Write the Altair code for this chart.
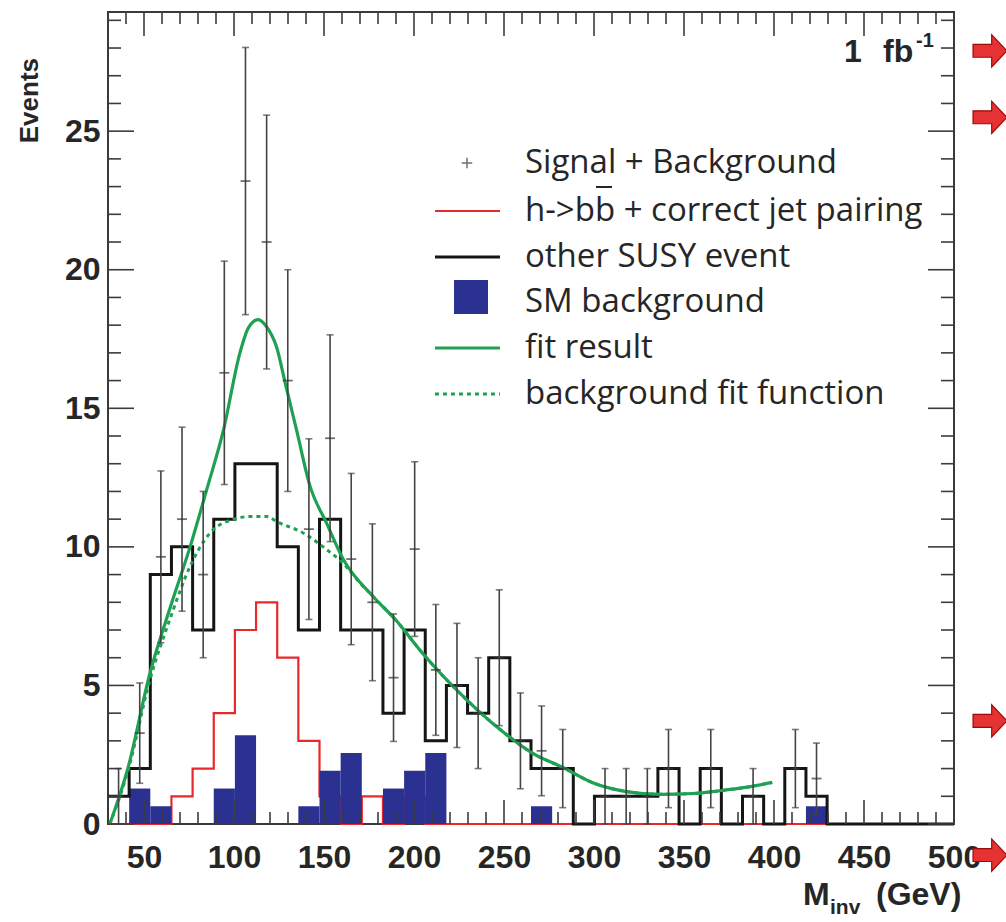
import altair as alt
import pandas as pd

# ---- binning: 40 bins between 30 and 500 GeV ----
X_MIN, X_MAX, N_BINS = 30.0, 500.0, 40
BIN_W = (X_MAX - X_MIN) / N_BINS
bin_lo = [X_MIN + i * BIN_W for i in range(N_BINS)]
bin_hi = [b + BIN_W for b in bin_lo]
bin_mid = [b + BIN_W / 2 for b in bin_lo]

# ---- histogram contents per bin ----
other_susy = [1, 2, 9, 10, 7, 11, 13, 13, 10, 7,
              11, 7, 7, 4, 7, 3, 5, 4, 6, 3,
              2, 2, 0, 1, 1, 1, 2, 0, 2, 0,
              1, 0, 2, 1, 0, 0, 0, 0, 0, 0]
h_bb = [0, 0, 0, 1, 2, 4, 7, 8, 6, 3,
        1, 0, 1, 0, 1, 0, 0, 0, 0, 0,
        0, 0, 0, 0, 0, 0, 0, 0, 0, 0,
        0, 0, 0, 0, 0, 0, 0, 0, 0, 0]
sm_bkg = [0, 1.28, 0.64, 0, 0, 1.28, 3.2, 0, 0, 0.64,
          1.92, 2.56, 0, 1.28, 1.92, 2.56, 0, 0, 0, 0,
          0.64, 0, 0, 0, 0, 0, 0, 0, 0, 0,
          0, 0, 0, 0.64, 0, 0, 0, 0, 0, 0]
sig_bkg = [1, 3.28, 9.64, 11, 9, 16.28, 23.2, 21, 16, 10.64,
           13.92, 9.56, 8, 5.28, 9.92, 5.56, 5, 4, 6, 3,
           2.64, 2, 0, 1, 1, 1, 2, 0, 2, 0,
           1, 0, 2, 1.64, 0, 0, 0, 0, 0, 0]
sig_err = [1, 1.81, 3.10, 3.32, 3.0, 4.03, 4.82, 4.58, 4.0, 3.26,
           3.73, 3.09, 2.83, 2.30, 3.15, 2.36, 2.24, 2.0, 2.45, 1.73,
           1.62, 1.41, 0, 1, 1, 1, 1.41, 0, 1.41, 0,
           1, 0, 1.41, 1.28, 0, 0, 0, 0, 0, 0]

# ---- fitted curves (sampled) ----
fit_x = [31, 41, 53.3, 65, 75.6, 85, 94.1, 103.3, 108, 113.5, 118, 123.7,
         128.5, 134.8, 142.2, 151.5, 160.7, 177.4, 190, 203, 211, 229, 248,
         266, 283, 300, 318, 337, 355, 370, 385, 399]
fit_y = [0, 2.0, 5.44, 7.9, 10.0, 12.1, 14.2, 17.0, 17.9, 18.2, 17.95, 17.2,
         15.9, 14.2, 12.2, 10.85, 9.55, 8.2, 7.35, 6.3, 5.7, 4.5, 3.4,
         2.55, 2.03, 1.47, 1.17, 1.07, 1.1, 1.2, 1.33, 1.5]
bkg_x = [31, 41, 53.3, 65, 75.6, 86.7, 100, 110, 118, 124, 138.5, 151.5,
         160.7, 170, 177.4, 190, 203, 211, 229, 248, 266, 283, 300, 318,
         337, 355, 370, 385, 399]
bkg_y = [0, 1.9, 5.2, 7.5, 9.3, 10.5, 11.0, 11.1, 11.1, 10.9, 10.5, 9.9,
         9.4, 8.7, 8.2, 7.35, 6.3, 5.7, 4.5, 3.4, 2.55, 2.03, 1.47, 1.17,
         1.07, 1.1, 1.2, 1.33, 1.5]

# ---- axis ticks ----
x_major = [50, 100, 150, 200, 250, 300, 350, 400, 450, 500]
x_minor = [v for v in range(40, 500, 10) if v % 50 != 0]
y_major = [0, 5, 10, 15, 20, 25]
y_minor = [v for v in range(1, 30) if v % 5 != 0]

# ---- legend ----
legend_labels = ["Signal + Background", "h->bb + correct jet pairing",
                 "other SUSY event", "SM background", "fit result",
                 "background fit function"]

# slide markers at the right margin
arrow_x = [520, 520, 520, 520]
arrow_y = [27.9, 25.5, 3.72, -1.12]

W, H = 846, 812
GREEN = "#1ea152"
RED = "#e8282b"
BLUE = "#2b3190"
INK = "#262626"
TICK = "#3c3c3c"
BOLD_FONT = "Liberation Sans"
LEG_FONT = "Open Sans"

xs = alt.Scale(domain=[X_MIN, X_MAX], nice=False, zero=False)
ys = alt.Scale(domain=[0, 29.3], nice=False, zero=False)
xaxis = alt.Axis(values=x_major, labelFont=BOLD_FONT, labelFontSize=32,
                 labelFontWeight="bold", labelColor=INK, labelPadding=18,
                 ticks=False, domain=False, grid=False, title=None,
                 labelFlush=False, labelOverlap=False)
yaxis = alt.Axis(values=y_major, labelFont=BOLD_FONT, labelFontSize=32,
                 labelFontWeight="bold", labelColor=INK, labelPadding=8,
                 ticks=False, domain=False, grid=False, title=None,
                 labelFlush=False, labelOverlap=False)


def X(f):
    return alt.X(f, scale=xs, axis=xaxis)


def Y(f):
    return alt.Y(f, scale=ys, axis=yaxis)


hist_df = pd.DataFrame({"x": bin_lo + [X_MAX],
                        "susy": other_susy + [0],
                        "hbb": h_bb + [0]})
bars_df = pd.DataFrame({"lo": bin_lo, "hi": bin_hi, "sm": sm_bkg})
bars_df = bars_df[bars_df.sm > 0]
pts_df = pd.DataFrame({"x": bin_mid, "v": sig_bkg, "e": sig_err})
pts_df = pts_df[pts_df.v > 0].copy()
pts_df["lo"] = pts_df.v - pts_df.e
pts_df["hi"] = pts_df.v + pts_df.e
fit_df = pd.DataFrame({"x": fit_x, "y": fit_y})
bkg_df = pd.DataFrame({"x": bkg_x, "y": bkg_y})

red_hist = alt.Chart(hist_df).mark_line(
    interpolate="step-after", color=RED, strokeWidth=2.2
).encode(x=X("x:Q"), y=Y("hbb:Q"))

blue_bars = alt.Chart(bars_df).mark_rect(color=BLUE).encode(
    x=X("lo:Q"), x2="hi:Q", y=Y("sm:Q"), y2=alt.datum(0))

black_hist = alt.Chart(hist_df).mark_line(
    interpolate="step-after", color="#151515", strokeWidth=3
).encode(x=X("x:Q"), y=Y("susy:Q"))

err_bars = alt.Chart(pts_df).mark_rule(color="#444444", strokeWidth=1.6).encode(
    x=X("x:Q"), y=Y("lo:Q"), y2="hi:Q")
caps_hi = alt.Chart(pts_df).mark_tick(
    orient="horizontal", color="#444444", size=7, thickness=1.6
).encode(x=X("x:Q"), y=Y("hi:Q"))
caps_lo = alt.Chart(pts_df).mark_tick(
    orient="horizontal", color="#444444", size=7, thickness=1.6
).encode(x=X("x:Q"), y=Y("lo:Q"))
markers = alt.Chart(pts_df).mark_tick(
    orient="horizontal", color="#333333", size=10, thickness=1.8
).encode(x=X("x:Q"), y=Y("v:Q"))

bkg_line = alt.Chart(bkg_df).mark_line(
    interpolate="monotone", color=GREEN, strokeWidth=3, strokeDash=[4, 4]
).encode(x=X("x:Q"), y=Y("y:Q"))
fit_line = alt.Chart(fit_df).mark_line(
    interpolate="monotone", color=GREEN, strokeWidth=3.2
).encode(x=X("x:Q"), y=Y("y:Q"))


# inward ticks on all four sides
def xticks(vals, y0, y1):
    return alt.Chart(pd.DataFrame({"v": vals})).mark_rule(
        color=TICK, strokeWidth=1.6
    ).encode(x=X("v:Q"), y=alt.value(y0), y2=alt.value(y1))


def yticks(vals, x0, x1):
    return alt.Chart(pd.DataFrame({"v": vals})).mark_rule(
        color=TICK, strokeWidth=1.6
    ).encode(y=Y("v:Q"), x=alt.value(x0), x2=alt.value(x1))


tick_layers = [
    xticks(x_minor, H, H - 12), xticks(x_major, H, H - 24),
    xticks(x_minor, 0, 12), xticks(x_major, 0, 24),
    yticks(y_minor, 0, 13), yticks(y_major, 0, 26),
    yticks(y_minor, W, W - 13), yticks(y_major, W, W - 26),
]

# legend
LEG_X0, LEG_X1 = 327, 392
LEG_TX = 417
leg_rows = [151, 199, 245, 290, 336, 382]


def one_row(label, yy):
    return alt.Chart(pd.DataFrame({"t": [label]})).mark_text(
        font=LEG_FONT, fontSize=33, align="left", baseline="middle", color=INK
    ).encode(text="t:N", x=alt.value(LEG_TX), y=alt.value(yy))


leg_text = [one_row(l, r) for l, r in zip(legend_labels, leg_rows)]
one = pd.DataFrame({"k": [0]})
leg_cross = alt.Chart(one).mark_point(
    shape="M-1,0L1,0M0,-1L0,1", filled=False, color="#333333",
    strokeWidth=1.5, size=110
).encode(x=alt.value(359), y=alt.value(leg_rows[0]))
# bar over the anti-b quark symbol
bbar = alt.Chart(one).mark_rule(color=INK, strokeWidth=2).encode(
    x=alt.value(488), x2=alt.value(504), y=alt.value(175))


def leg_line(yy, color, dash=None):
    kw = dict(color=color, strokeWidth=3 if color != RED else 2.2)
    if dash:
        kw["strokeDash"] = dash
    return alt.Chart(one).mark_rule(**kw).encode(
        x=alt.value(LEG_X0), x2=alt.value(LEG_X1), y=alt.value(yy))


leg_sym = [
    leg_cross,
    leg_line(leg_rows[1], RED),
    leg_line(leg_rows[2], "#151515"),
    alt.Chart(one).mark_rect(color=BLUE).encode(
        x=alt.value(346), x2=alt.value(380), y=alt.value(268), y2=alt.value(302)),
    leg_line(leg_rows[4], GREEN),
    leg_line(leg_rows[5], GREEN, [4, 4]),
    bbar,
]


def label(text, x, y, size, align="left"):
    return alt.Chart(pd.DataFrame({"t": [text]})).mark_text(
        font=BOLD_FONT, fontWeight="bold", fontSize=size, align=align,
        baseline="alphabetic", color=INK
    ).encode(text="t:N", x=alt.value(x), y=alt.value(y))


titles = [
    alt.Chart(pd.DataFrame({"t": ["Events"]})).mark_text(
        font=BOLD_FONT, fontWeight="bold", fontSize=26, angle=270,
        align="right", baseline="middle", color=INK
    ).encode(text="t:N", x=alt.value(-78), y=alt.value(46)),
    label("M", 695, 893, 32),
    label("inv", 722, 902, 21),
    label("(GeV)", 768, 893, 32),
    label("1", 736, 50, 32),
    label("fb", 775, 50, 32),
    label("-1", 808, 35, 20),
]

arrow_df = pd.DataFrame({"x": arrow_x, "y": arrow_y})
arrows = alt.Chart(arrow_df).mark_point(
    shape="M-1,-0.38L0.1,-0.38L0.1,-0.95L1,0L0.1,0.95L0.1,0.38L-1,0.38Z",
    filled=True, fill="#e53333", stroke="#9c0a0a", strokeWidth=1.2,
    size=1150, opacity=1
).encode(x=X("x:Q"), y=Y("y:Q"))

chart = alt.layer(
    red_hist, blue_bars, black_hist, bkg_line, fit_line,
    err_bars, caps_hi, caps_lo, markers,
    *tick_layers, *leg_sym, *leg_text, *titles, arrows
).properties(
    width=W, height=H,
    autosize=alt.AutoSizeParams(type="none"),
    padding={"left": 108, "top": 12, "right": 52, "bottom": 98},
    background="white",
).configure_view(stroke="#3a3a3a", strokeWidth=2)

chart.save("out.html", embed_options={"renderer": "svg", "actions": False})
